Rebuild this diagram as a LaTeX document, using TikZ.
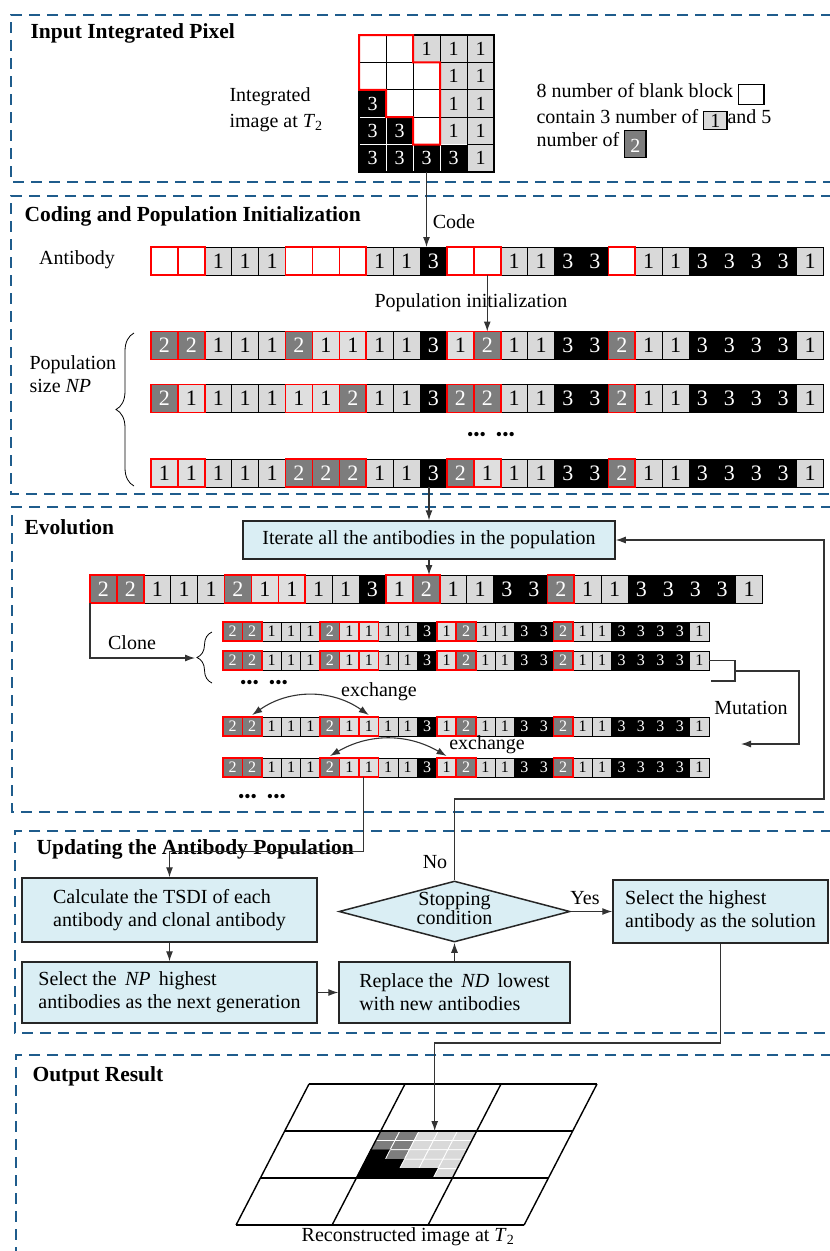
\documentclass[tikz,border=0pt]{standalone}
\usepackage{fontspec}
\setmainfont{Liberation Serif}
\usetikzlibrary{arrows.meta,shapes.geometric,decorations.pathreplacing,calc}

\definecolor{sectblue}{RGB}{31,92,140}
\definecolor{boxblue}{RGB}{218,238,244}
\definecolor{cellgray}{RGB}{217,217,217}
\definecolor{celldark}{RGB}{125,125,125}
\setlength{\fboxsep}{2pt}
\setlength{\fboxrule}{1.2pt}

% texts of the cell codes
\def\txto{1}\def\txtt{3}\def\txtw{}\def\txta{1}\def\txtb{2}\def\txte{}\def\txtk{3}

% one row of coded cells: name, left x, centre y, cell w, cell h, digit size, codes
\newcommand\cellrow[7]{%
  \foreach \v [count=\i] in {#7}{
    \node[cell, minimum width=#4, minimum height=#5, font=\fontsize{#6}{#6}\selectfont, c\v]
      (#1-\i) at ({#2+(\i-0.5)*#4}, #3) {\csname txt\v\endcsname};
  }
  \foreach \v [count=\i] in {#7}
    \draw[r\v] (#1-\i.south west) rectangle (#1-\i.north east);
}

\begin{document}
\begin{tikzpicture}[x=1pt, y=-1pt,
    txt/.style={font=\fontsize{20}{23}\selectfont},
    ttl/.style={font=\fontsize{21.5}{25}\selectfont\bfseries},
    sect/.style={draw=sectblue, line width=2.6pt, dash pattern=on 11pt off 7pt},
    cell/.style={draw=black, line width=0.9pt, inner sep=0pt, outer sep=0pt},
    co/.style={fill=cellgray}, ct/.style={fill=black, text=white},
    cw/.style={fill=white}, ca/.style={fill=cellgray!85}, cb/.style={fill=celldark, text=white},
    ce/.style={fill=white}, ck/.style={fill=black, text=white, draw=white},
    ro/.style={draw=none}, rt/.style={draw=none}, re/.style={draw=none}, rk/.style={draw=none},
    rw/.style={draw=red, line width=1.6pt}, ra/.style={rw}, rb/.style={rw},
    mk/.style={fill=black, draw=black}, md/.style={fill=celldark, draw=white}, ml/.style={fill=cellgray, draw=white},
    conn/.style={draw=black!80, line width=1.1pt},
    arr/.style={conn, -{Latex[length=10pt,width=7pt]}},
    twoarr/.style={conn, {Latex[length=10pt,width=7pt]}-{Latex[length=10pt,width=7pt]}},
    flowbox/.style={txt, draw=black!85, line width=1.5pt, fill=boxblue, align=left},
    decision/.style={diamond, draw=black!85, line width=1.5pt, fill=boxblue, minimum width=231, minimum height=61, inner sep=0pt},
    dotsrow/.style={font=\fontsize{18}{18}\selectfont}
  ]
  \useasboundingbox (0,0) rectangle (830,1251);
  \clip (0,0) rectangle (830,1251);

  % section frames
  \draw[sect] (850,15) -| (11,182) -- (850,182);
  \draw[sect] (850,196) -| (11,494) -- (850,494);
  \draw[sect] (850,507) -| (12,812) -- (850,812);
  \draw[sect] (850,831) -| (15,1033) -- (850,1033);
  \draw[sect] (850,1055) -| (16,1270);

  % input integrated pixel
  \node[ttl, anchor=west] (ttlin) at (27,33) {Input Integrated Pixel};
  \cellrow{g1}{359}{48.7}{27}{27.4}{20}{e,e,o,o,o}
  \cellrow{g2}{359}{76.1}{27}{27.4}{20}{e,e,e,o,o}
  \cellrow{g3}{359}{103.5}{27}{27.4}{20}{k,e,e,o,o}
  \cellrow{g4}{359}{130.9}{27}{27.4}{20}{k,k,e,o,o}
  \cellrow{g5}{359}{158.3}{27}{27.4}{20}{k,k,k,k,o}
  \draw[line width=1.4pt] (g1-1.north west) rectangle (g5-5.south east);
  \draw[red, line width=2pt] (g1-1.north west) -- (g1-2.north east) -- (g1-2.south east)
    -- (g2-3.north east) -- (g4-3.south east) -- (g4-3.south west) -- (g3-3.south west)
    -- (g3-2.south west) -- (g2-2.south west) -- (g2-1.south west) -- cycle;
  \node[anchor=west, align=left, font=\fontsize{20}{26}\selectfont] (intlab) at (226,110)
    {Integrated\\image at \textit{T}\textsubscript{2}};
  \node[txt, anchor=base west] (leg1) at (533,97)
    {8 number of blank block \raisebox{-5pt}{\fcolorbox{black}{white}{\rule{0pt}{15pt}\hspace{20pt}}}};
  \node[txt, anchor=base west] (leg2) at (533,123)
    {contain 3 number of \raisebox{-4pt}{\fcolorbox{black}{cellgray}{\hspace{4pt}1\hspace{4pt}}}and 5};
  \node[txt, anchor=base west] (leg3) at (533,146)
    {number of \raisebox{-6pt}{\fcolorbox{black}{celldark}{\hspace{3pt}\textcolor{white}{2}\hspace{3pt}\rule[-3pt]{0pt}{22pt}}}};

  % coding and population initialization
  \node[ttl, anchor=west] (ttlcode) at (21,216) {Coding and Population Initialization};
  \cellrow{a}{151}{261}{26.9}{28}{22}{w,w,o,o,o,w,w,w,o,o,t,w,w,o,o,t,t,w,o,o,t,t,t,t,o}
  \draw[arr] (g5-3.south) -- (g5-3.south |- a-11.north);
  \node[txt] (code) at (454,222) {Code};
  \node[txt] (ablab) at (77,260) {Antibody};
  \cellrow{p1}{151}{345.5}{26.9}{28}{22}{b,b,o,o,o,b,a,a,o,o,t,a,b,o,o,t,t,b,o,o,t,t,t,t,o}
  \cellrow{p2}{151}{398.5}{26.9}{28}{22}{b,a,o,o,o,a,a,b,o,o,t,b,b,o,o,t,t,b,o,o,t,t,t,t,o}
  \cellrow{p3}{151}{473}{26.9}{28}{22}{a,a,o,o,o,b,b,b,o,o,t,b,a,o,o,t,t,b,o,o,t,t,t,t,o}
  \draw[arr] (a-13.south) -- (p1-13.north);
  \node[txt] (popinit) at (471,303) {Population initialization};
  \node[dotsrow] (popdots) at (491,436) {\textbullet\textbullet\textbullet\hspace{10pt}\textbullet\textbullet\textbullet};
  \draw[decorate, decoration={brace, amplitude=18pt}, line width=0.8pt] (134,486) -- (134,333);
  \node[txt, align=left, anchor=west] (popsize) at (26,374) {Population\\size \textit{NP}};

  % evolution
  \node[ttl, anchor=west] (ttlevo) at (21,527) {Evolution};
  \node[flowbox, align=center, minimum width=372, minimum height=38] (iter) at (429,540)
    {Iterate all the antibodies in the population};
  \draw[arr] (iter.north |- p3-11.south) -- (iter.north);
  \cellrow{e}{90}{589}{26.9}{28}{22}{b,b,o,o,o,b,a,a,o,o,t,a,b,o,o,t,t,b,o,o,t,t,t,t,o}
  \draw[arr] (iter.south) -- (iter.south |- e-13.north);
  \cellrow{c1}{223}{631.5}{19.44}{19}{16}{b,b,o,o,o,b,a,a,o,o,t,a,b,o,o,t,t,b,o,o,t,t,t,t,o}
  \cellrow{c2}{223}{660.5}{19.44}{19}{16}{b,b,o,o,o,b,a,a,o,o,t,a,b,o,o,t,t,b,o,o,t,t,t,t,o}
  \cellrow{x1}{223}{726.5}{19.44}{19}{16}{b,b,o,o,o,b,a,a,o,o,t,a,b,o,o,t,t,b,o,o,t,t,t,t,o}
  \cellrow{x2}{223}{767.5}{19.44}{19}{16}{b,b,o,o,o,b,a,a,o,o,t,a,b,o,o,t,t,b,o,o,t,t,t,t,o}
  \coordinate (clonetip) at (195,658);
  \draw[decorate, decoration={brace, amplitude=15pt}, line width=0.8pt] (212,683) -- (212,632);
  \draw[arr] (e-1.south west) |- (clonetip);
  \node[txt] (clone) at (132,643) {Clone};
  \node[dotsrow] (clonedots) at (264,684) {\textbullet\textbullet\textbullet\hspace{10pt}\textbullet\textbullet\textbullet};
  \draw[twoarr] ([yshift=2pt]x1-2.north) to[out=35,in=145] ([yshift=2pt]x1-8.north);
  \node[txt] (exch1) at (379,692) {exchange};
  \draw[twoarr] ([yshift=2pt]x2-6.north) to[out=30,in=150] ([yshift=2pt]x2-12.north);
  \node[txt] (exch2) at (487,745) {exchange};
  \coordinate (mutbr) at (735,671);
  \coordinate (mutin) at (741,744);
  \draw[conn] (c2-25.east) -| ($(mutbr)+(0,10)$) -- ++(-24,0);
  \draw[arr] (mutbr) -| ($(mutin)+(58,0)$) -- (mutin);
  \node[txt] (mut) at (751,708) {Mutation};
  \node[dotsrow] (evodots) at (262,798) {\textbullet\textbullet\textbullet\hspace{10pt}\textbullet\textbullet\textbullet};

  % updating the antibody population
  \node[ttl, anchor=west] (ttlupd) at (33,849) {Updating the Antibody Population};
  \node[flowbox, minimum width=295, minimum height=64] (calc) at (169.5,910)
    {Calculate the TSDI of each\\antibody and clonal antibody};
  \node[flowbox, minimum width=295, minimum height=61] (select) at (169.5,992.5)
    {Select the \,\textit{NP}\, highest\\antibodies as the next generation};
  \node[flowbox, minimum width=231, minimum height=61] (replace) at (454.5,992.5)
    {Replace the \,\textit{ND}\, lowest\\with new antibodies};
  \node[decision] (stop) at (454.5,911.5) {};
  \node[align=center, font=\fontsize{20}{18}\selectfont] (stoptxt) at ([yshift=3pt]stop.center) {Stopping\\condition};
  \node[flowbox, minimum width=215, minimum height=63] (high) at (720.5,911.5)
    {Select the highest\\antibody as the solution};
  \draw[arr] ([xshift=-5pt]x2-8.south) |- ($(calc.north)+(0,-26)$) -- (calc.north);
  \draw[arr] (calc.south) -- (select.north);
  \draw[arr] (select.east) -- (replace.west);
  \draw[arr] (replace.north) -- (stop.south);
  \draw[arr] (stop.east) -- (high.west);
  \node[txt] (yes) at (585,898) {Yes};
  \coordinate (fb) at (824,799);
  \draw[arr] (stop.north) |- (fb) |- (iter.east);
  \node[txt] (no) at (435,862) {No};

  % output result
  \node[ttl, anchor=west] (ttlout) at (29,1076) {Output Result};
  \begin{scope}[shift={(309,1084)}, xslant=0.517]
    \foreach \row [count=\r] in {{d,d,l,l,l},{d,d,l,l,l},{k,d,l,l,l},{k,k,l,l,l},{k,k,k,k,l}}
      \foreach \v [count=\c] in \row
        \filldraw[m\v, line width=0.8pt] ({96+(\c-1)*19.2},{47+(\r-1)*9.4}) rectangle ++(19.2,9.4);
    \foreach \i in {0,96,192,288}
      \draw[line width=1.4pt] (\i,0) -- (\i,141);
    \foreach \j in {0,47,94,141}
      \draw[line width=1.4pt] (0,\j) -- (288,\j);
    \coordinate (rtop) at (150,47);
  \end{scope}
  \draw[arr] (high.south) |- ($(rtop)+(0,-88)$) -- (rtop);
  \node[txt] (recon) at (408,1237) {Reconstructed image at \textit{T}\textsubscript{2}};
\end{tikzpicture}
\end{document}
